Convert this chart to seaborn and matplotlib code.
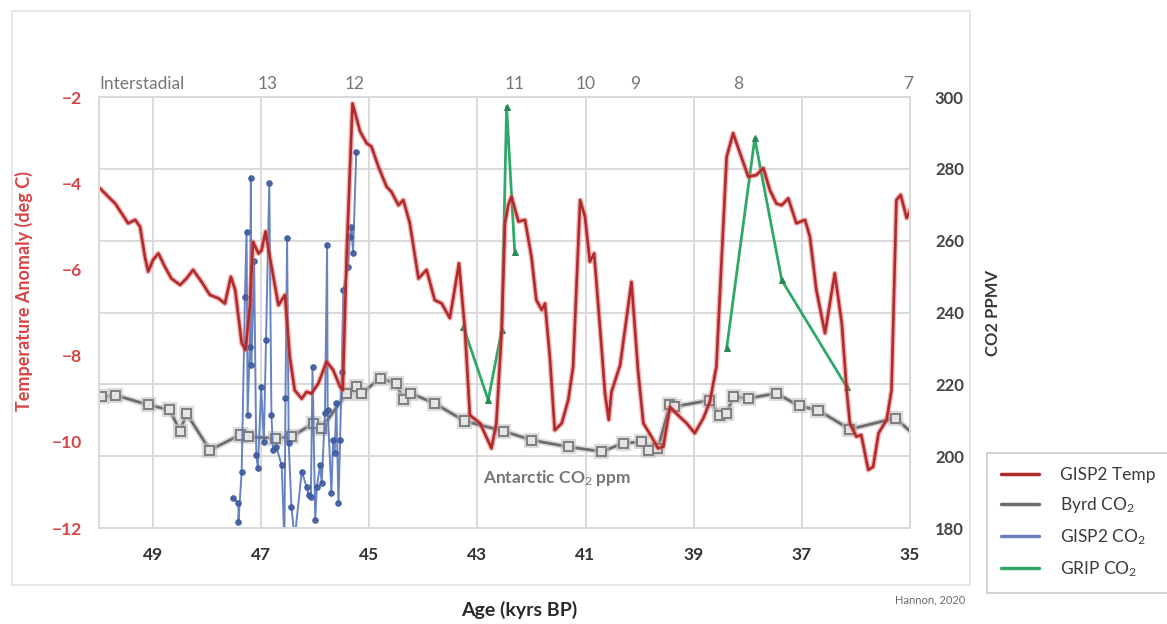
import numpy as np
import pandas as pd
import matplotlib
matplotlib.use("Agg")
import matplotlib.pyplot as plt
import matplotlib.patheffects as pe
from matplotlib.lines import Line2D
from matplotlib.patches import Rectangle
import seaborn as sns

# ---------------- data ----------------
temp_age = [49.98, 49.83, 49.70, 49.58, 49.46, 49.33, 49.24, 49.15, 49.09, 49.00,
            48.90, 48.78, 48.66, 48.50, 48.38, 48.26, 48.10, 47.95, 47.79, 47.67,
            47.56, 47.48, 47.36, 47.29, 47.21, 47.15, 47.05, 46.99, 46.92, 46.84,
            46.68, 46.56, 46.47, 46.38, 46.25, 46.16, 46.07, 45.94, 45.79, 45.67,
            45.54, 45.49, 45.42, 45.31, 45.17, 45.05, 44.96, 44.83, 44.68, 44.59,
            44.46, 44.37, 44.25, 44.09, 43.94, 43.79, 43.66, 43.51, 43.34, 43.23,
            43.14, 42.95, 42.74, 42.65, 42.55, 42.49, 42.43, 42.37, 42.24, 42.12,
            42.00, 41.91, 41.81, 41.75, 41.66, 41.57, 41.44, 41.32, 41.23, 41.10,
            41.01, 40.92, 40.84, 40.70, 40.64, 40.57, 40.52, 40.36, 40.15, 40.03,
            39.93, 39.78, 39.66, 39.56, 39.44, 39.29, 39.13, 38.98, 38.82, 38.70,
            38.58, 38.48, 38.39, 38.27, 38.14, 37.99, 37.84, 37.71, 37.59, 37.47,
            37.37, 37.25, 37.10, 36.94, 36.85, 36.73, 36.57, 36.39, 36.26, 36.17,
            36.11, 35.99, 35.90, 35.77, 35.68, 35.58, 35.43, 35.34, 35.25, 35.17,
            35.06, 34.98]
temp_anom = [-4.12, -4.31, -4.47, -4.70, -4.93, -4.85, -5.01, -5.71, -6.05, -5.78,
             -5.63, -5.94, -6.21, -6.36, -6.21, -6.01, -6.29, -6.59, -6.67, -6.79,
             -6.17, -6.48, -7.71, -7.87, -6.87, -5.36, -5.63, -5.55, -5.12, -5.71,
             -6.83, -6.59, -8.03, -8.80, -9.00, -8.84, -8.88, -8.64, -8.14, -8.33,
             -8.72, -8.80, -5.71, -2.15, -2.80, -3.07, -3.15, -3.62, -4.08, -4.20,
             -4.51, -4.39, -4.93, -6.21, -6.01, -6.71, -6.79, -7.13, -5.86, -7.41,
             -9.38, -9.57, -10.15, -9.57, -7.41, -4.93, -4.51, -4.31, -4.89, -4.85,
             -5.71, -6.71, -6.94, -6.79, -8.03, -9.73, -9.57, -9.03, -8.26, -4.39,
             -4.78, -5.82, -5.63, -7.87, -8.88, -9.49, -8.84, -8.22, -6.29, -8.33,
             -9.57, -9.88, -10.15, -10.11, -9.19, -9.38, -9.57, -9.80, -9.45, -9.07,
             -8.26, -5.71, -3.39, -2.84, -3.31, -3.85, -3.81, -3.65, -4.16, -4.47,
             -4.51, -4.35, -4.93, -4.85, -5.24, -6.48, -7.48, -6.09, -7.25, -8.80,
             -9.57, -9.88, -9.84, -10.65, -10.58, -9.80, -9.49, -8.80, -4.39, -4.27,
             -4.81, -4.58]

byrd_age = [49.95, 49.70, 49.09, 48.69, 48.50, 48.38, 47.95, 47.39, 47.24, 46.74,
            46.44, 46.04, 45.88, 45.42, 45.23, 45.14, 44.80, 44.50, 44.37, 44.23,
            43.79, 43.24, 42.52, 42.00, 41.32, 40.70, 40.30, 39.96, 39.84, 39.66,
            39.44, 39.35, 38.70, 38.52, 38.39, 38.27, 37.99, 37.47, 37.05, 36.70,
            36.11, 35.27, 34.85]
byrd_co2 = [216.5, 217.0, 214.3, 212.9, 207.0, 211.9, 201.7, 205.9, 205.4, 205.0,
            205.4, 209.1, 207.8, 217.5, 219.5, 217.5, 221.7, 220.3, 215.8, 217.5,
            214.7, 209.8, 207.0, 204.5, 202.6, 201.3, 203.6, 204.0, 201.7, 202.2,
            214.3, 213.8, 215.6, 211.2, 211.9, 216.6, 216.1, 217.5, 214.0, 212.8,
            207.5, 210.6, 205.0]

gisp2_age = [47.52, 47.42, 47.42, 47.36, 47.30, 47.27, 47.25, 47.21, 47.19, 47.18,
             47.13, 47.09, 47.06, 47.00, 46.95, 46.91, 46.85, 46.81, 46.78, 46.72,
             46.62, 46.57, 46.55, 46.52, 46.49, 46.44, 46.38, 46.25, 46.16, 46.12,
             46.08, 46.05, 46.00, 45.97, 45.91, 45.88, 45.82, 45.78, 45.77, 45.70,
             45.67, 45.64, 45.61, 45.57, 45.54, 45.51, 45.48, 45.39, 45.36, 45.33,
             45.30, 45.24]
gisp2_co2 = [188.3, 186.9, 181.8, 195.7, 244.4, 262.5, 211.5, 230.5, 277.4, 225.4,
             254.4, 200.3, 196.6, 219.3, 204.0, 232.3, 276.0, 211.5, 201.7, 202.6,
             197.5, 175.8, 216.1, 260.7, 203.6, 185.9, 177.0, 195.7, 191.5, 189.2,
             188.7, 224.9, 182.2, 191.5, 197.5, 192.5, 211.9, 258.8, 212.9, 189.7,
             204.5, 200.8, 214.7, 186.9, 204.5, 223.5, 246.3, 252.8, 261.1, 263.9,
             256.5, 284.8]

grip_age = [43.26, 42.80, 42.55, 42.46, 42.31, 38.39, 37.87, 37.37, 36.17]
grip_co2 = [236.1, 215.6, 235.2, 297.3, 256.9, 230.0, 288.5, 249.0, 219.3]
grip_segment = [1, 1, 1, 1, 1, 2, 2, 2, 2]

interstadial_labels = ["Interstadial", "13", "12", "11", "10", "9", "8", "7"]
interstadial_age = [50.0, 46.87, 45.27, 42.31, 41.0, 40.09, 38.18, 35.04]

x_ticks = [49, 47, 45, 43, 41, 39, 37, 35]
temp_ticks = [-2, -4, -6, -8, -10, -12]
co2_ticks = [180, 200, 220, 240, 260, 280, 300]

# ---------------- style ----------------
sns.set_theme(style="white")
plt.rcParams["font.family"] = ["Lato", "DejaVu Sans"]
plt.rcParams["mathtext.fontset"] = "custom"
plt.rcParams["mathtext.rm"] = "Lato"
plt.rcParams["mathtext.it"] = "Lato:italic"
plt.rcParams["mathtext.bf"] = "Lato:bold"

RED = "#b02c2c"
GRAY = "#6c6c6c"
BLUE = "#5676bb"
GREEN = "#2fa869"
GRID = "#d9d9d9"

fig = plt.figure(figsize=(11.67, 6.24), dpi=100)
fig.patch.set_facecolor("white")
# faint outer frame
fig.patches.append(Rectangle((0.0103, 0.0625), 0.821, 0.92, transform=fig.transFigure,
                             fill=False, edgecolor="#e3e3e3", linewidth=1.2))

ax = fig.add_axes([0.0848, 0.1538, 0.6949, 0.6907])
ax2 = ax.twinx()
ax.set_zorder(ax2.get_zorder() + 1)
ax.patch.set_visible(False)
ax2.patch.set_facecolor("white")

df_temp = pd.DataFrame({"age": temp_age, "temp": temp_anom})
df_byrd = pd.DataFrame({"age": byrd_age, "co2": byrd_co2})
df_gisp = pd.DataFrame({"age": gisp2_age, "co2": gisp2_co2})
df_grip = pd.DataFrame({"age": grip_age, "co2": grip_co2, "seg": grip_segment})

# Byrd CO2 (gray with squares)
sns.lineplot(data=df_byrd, x="age", y="co2", ax=ax2, estimator=None, sort=False,
             color=GRAY, linewidth=2.0, marker="s", markersize=6.5,
             markerfacecolor="#e4e4e4", markeredgecolor="#7e7e7e", markeredgewidth=1.4,
             legend=False)
ax2.get_lines()[-1].set_path_effects([pe.Stroke(linewidth=4.5, foreground="#c4c4c4", alpha=0.6), pe.Normal()])

# GISP2 CO2 (blue)
sns.lineplot(data=df_gisp, x="age", y="co2", ax=ax2, estimator=None, sort=False,
             color=BLUE, linewidth=1.4, marker="o", markersize=4,
             markerfacecolor="#3d5a9e", markeredgecolor="#3d5a9e", alpha=0.9,
             legend=False)

# GRIP CO2 (green)
sns.lineplot(data=df_grip, x="age", y="co2", units="seg", ax=ax2, estimator=None, sort=False,
             color=GREEN, linewidth=2.0, marker="^", markersize=5,
             markerfacecolor="#2a8a55", markeredgecolor="#2a8a55", legend=False)

# GISP2 temperature (red)
sns.lineplot(data=df_temp, x="age", y="temp", ax=ax, estimator=None, sort=False,
             color=RED, linewidth=1.9, legend=False)
ax.get_lines()[-1].set_path_effects([pe.Stroke(linewidth=3.8, foreground="#e86a6a", alpha=0.5), pe.Normal()])

# ---------------- axes ----------------
ax.set_xlim(50, 35)
ax.set_ylim(-12, -2)
ax2.set_ylim(180, 300)
ax.set_xticks(x_ticks)
ax.set_yticks(temp_ticks)
ax2.set_yticks(co2_ticks)

ax.grid(False)
ax2.xaxis.set_visible(True)
ax2.set_xlabel("")
ax2.tick_params(axis="x", labelbottom=False, labeltop=False, bottom=False, top=False)
ax2.grid(True, axis="both", color=GRID, linewidth=1.4)
ax2.set_axisbelow(True)
for a in (ax, ax2):
    for s in a.spines.values():
        s.set_color(GRID)
        s.set_linewidth(1.4)
    a.tick_params(length=0)

ax.tick_params(axis="x", pad=14, labelsize=12.5, labelcolor="#333333")
ax.tick_params(axis="y", pad=12, labelsize=12.5, labelcolor="#d64545")
ax2.tick_params(axis="y", pad=18, labelsize=12, labelcolor="#444444")
for lab in ax.get_xticklabels() + ax.get_yticklabels():
    lab.set_fontweight("bold")
for lab in ax2.get_yticklabels():
    lab.set_fontweight("bold")

ax.set_xlabel("Age (kyrs BP)", fontsize=14, fontweight="bold", color="#2a2a2a")
ax.xaxis.set_label_coords(0.518, -0.17)
ax.set_ylabel("Temperature Anomaly (deg C)", fontsize=13, fontweight="bold", color="#d64545")
ax.yaxis.set_label_coords(-0.081, 0.55)
ax2.set_ylabel("CO2 PPMV", fontsize=12, fontweight="bold", color="#3a3a3a", rotation=90)
ax2.yaxis.set_label_coords(1.0925, 0.50)

# interstadial numbers along the top
for lab, age in zip(interstadial_labels, interstadial_age):
    ax.text(age, 1.012, lab, transform=ax.get_xaxis_transform(),
            ha="left" if lab == "Interstadial" else "center", va="bottom",
            fontsize=12.5, color="#767676")

ax2.text(42.9, 194, "Antarctic CO$_2$ ppm", ha="left", va="center",
         fontsize=12.5, color="#767676", fontweight="bold")

fig.text(0.797, 0.038, "Hannon, 2020", fontsize=8, color="#6a6a6a", ha="center", va="center")

handles = [Line2D([], [], color=RED, lw=2.5),
           Line2D([], [], color=GRAY, lw=2.5),
           Line2D([], [], color="#6a80b8", lw=2.5),
           Line2D([], [], color=GREEN, lw=2.5)]
labels = ["GISP2 Temp", "Byrd CO$_2$", "GISP2 CO$_2$", "GRIP CO$_2$"]
leg = fig.legend(handles, labels, loc="upper left", bbox_to_anchor=(0.846, 0.274),
                 frameon=True, fancybox=False, edgecolor="#bdbdbd", fontsize=12.5,
                 handlelength=2.2, handletextpad=1.2, labelspacing=0.7,
                 borderpad=0.8, borderaxespad=0)
leg.get_frame().set_linewidth(1.2)
for t in leg.get_texts():
    t.set_color("#3a3a3a")

fig.savefig("out.png", dpi=100, facecolor="white")
